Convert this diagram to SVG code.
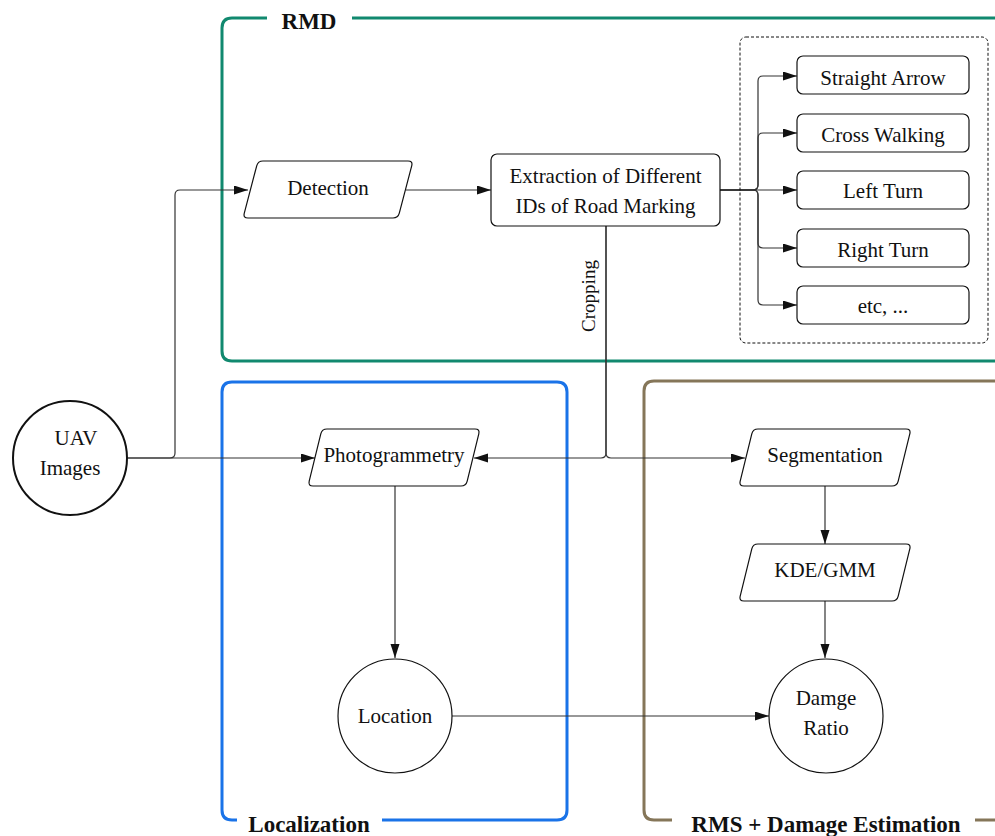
<svg xmlns="http://www.w3.org/2000/svg" width="995" height="836" viewBox="0 0 995 836" font-family="'Liberation Serif', 'DejaVu Serif', serif">
<style>
text{font-family:'Liberation Serif','DejaVu Serif',serif}
.t{font-size:21px;font-weight:normal;fill:#111;text-anchor:middle}
.lb{font-size:23px;font-weight:bold;fill:#111;text-anchor:middle}
.n{fill:#fff;stroke:#111;stroke-width:1.2}
.c{fill:none;stroke:#333;stroke-width:1.2}
.f{fill:none;stroke-width:3}
</style>
<defs>
<marker id="ah" markerUnits="userSpaceOnUse" markerWidth="15" markerHeight="10" refX="14" refY="4.5" orient="auto">
<path d="M0,0 L14,4.5 L0,9 Z" fill="#111"/>
</marker>
</defs>
<rect width="995" height="836" fill="#fff"/>
<g id="frames">
<g id="frame-rmd">
<path class="f" stroke="#11896f" d="M267,18 H232 Q222,18 222,28 V351 Q222,361 232,361 H995 M352,18 H995"/>
<text class="lb" x="309" y="29">RMD</text>
</g>
<g id="frame-localization">
<path class="f" stroke="#1a73e8" d="M237,820 H232 Q222,820 222,810 V392 Q222,382 232,382 H557 Q567,382 567,392 V810 Q567,820 557,820 H382"/>
<text class="lb" x="309" y="832">Localization</text>
</g>
<g id="frame-rms">
<path class="f" stroke="#857659" d="M672,820 H654 Q644,820 644,810 V391 Q644,381 654,381 H995 M975,820 H995"/>
<text class="lb" x="826" y="832">RMS + Damage Estimation</text>
</g>
</g>
<g id="connectors">
<path class="c" marker-end="url(#ah)" d="M127,458 H170 Q175,458 175,453 V195 Q175,190 180,190 H248"/>
<path class="c" marker-end="url(#ah)" d="M127,458 H315"/>
<path class="c" marker-end="url(#ah)" d="M406,190 H491"/>
<path class="c" marker-end="url(#ah)" d="M720,190 H753 Q758,190 758,185 V81 Q758,76 763,76 H797"/>
<path class="c" marker-end="url(#ah)" d="M720,190 H753 Q758,190 758,185 V138 Q758,133 763,133 H797"/>
<path class="c" marker-end="url(#ah)" d="M720,190 H797"/>
<path class="c" marker-end="url(#ah)" d="M720,190 H753 Q758,190 758,195 V243 Q758,248 763,248 H797"/>
<path class="c" marker-end="url(#ah)" d="M720,190 H753 Q758,190 758,195 V300 Q758,305 763,305 H797"/>
<path class="c" marker-end="url(#ah)" d="M606,226 V453 Q606,458 601,458 H474"/>
<path class="c" marker-end="url(#ah)" d="M606,226 V453 Q606,458 611,458 H745"/>
<text class="t" style="font-size:19px" transform="translate(595,296) rotate(-90)">Cropping</text>
<path class="c" marker-end="url(#ah)" d="M395,486 V658"/>
<path class="c" marker-end="url(#ah)" d="M825,486 V544"/>
<path class="c" marker-end="url(#ah)" d="M825,601 V658"/>
<path class="c" marker-end="url(#ah)" d="M452,716 H769"/>
</g>
<g id="uav">
<circle class="n" cx="70" cy="458" r="57" style="stroke-width:2"/>
<text class="t" x="76" y="445">UAV</text>
<text class="t" x="70" y="475">Images</text>
</g>
<g id="detection">
<path class="n" d="M263,161 H408 Q413,161 411.7,165.8 L399.3,213.2 Q398,218 393,218 H248 Q243,218 244.3,213.2 L256.7,165.8 Q258,161 263,161 Z"/>
<text class="t" x="328" y="195">Detection</text>
</g>
<g id="extraction">
<rect class="n" x="491" y="154" width="229" height="72" rx="6"/>
<text class="t" x="605.5" y="183">Extraction of Different</text>
<text class="t" x="605.5" y="213">IDs of Road Marking</text>
</g>
<g id="classes">
<rect x="740" y="37" width="248" height="306" rx="6" fill="none" stroke="#111" stroke-width="1" stroke-dasharray="3,2"/>
<g id="straight-arrow"><rect class="n" x="797" y="56" width="172" height="38" rx="6"/><text class="t" x="883" y="85">Straight Arrow</text></g>
<g id="cross-walking"><rect class="n" x="797" y="114" width="172" height="38" rx="6"/><text class="t" x="883" y="142">Cross Walking</text></g>
<g id="left-turn"><rect class="n" x="797" y="171" width="172" height="38" rx="6"/><text class="t" x="883" y="198">Left Turn</text></g>
<g id="right-turn"><rect class="n" x="797" y="229" width="172" height="38" rx="6"/><text class="t" x="883" y="257">Right Turn</text></g>
<g id="etc"><rect class="n" x="797" y="286" width="172" height="38" rx="6"/><text class="t" x="883" y="313">etc, ...</text></g>
</g>
<g id="photogrammetry">
<path class="n" d="M327,429 H475 Q480,429 478.8,433.9 L467.2,481.1 Q466,486 461,486 H313 Q308,486 309.2,481.1 L320.8,433.9 Q322,429 327,429 Z"/>
<text class="t" x="394" y="462">Photogrammetry</text>
</g>
<g id="segmentation">
<path class="n" d="M758,429 H906 Q911,429 909.8,433.9 L898.2,481.1 Q897,486 892,486 H744 Q739,486 740.2,481.1 L751.8,433.9 Q753,429 758,429 Z"/>
<text class="t" x="825" y="462">Segmentation</text>
</g>
<g id="kde-gmm">
<path class="n" d="M758,544 H906 Q911,544 909.8,548.9 L898.2,596.1 Q897,601 892,601 H744 Q739,601 740.2,596.1 L751.8,548.9 Q753,544 758,544 Z"/>
<text class="t" x="825" y="577">KDE/GMM</text>
</g>
<g id="location">
<circle class="n" cx="395" cy="716" r="57"/>
<text class="t" x="395" y="723">Location</text>
</g>
<g id="damage-ratio">
<circle class="n" cx="826" cy="716" r="57"/>
<text class="t" x="826" y="705">Damge</text>
<text class="t" x="826" y="735">Ratio</text>
</g>
</svg>
